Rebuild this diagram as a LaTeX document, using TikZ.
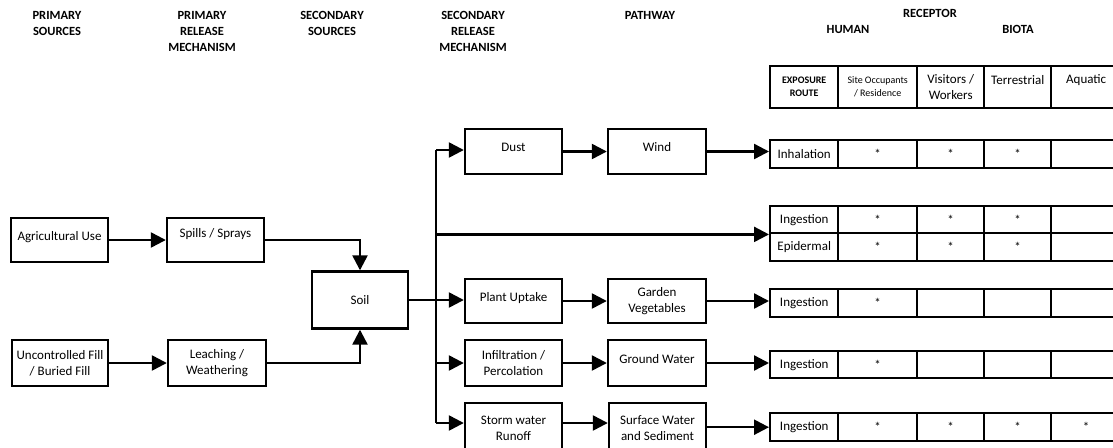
\documentclass[tikz,border=0pt]{standalone}
\usepackage{fontspec}
\setmainfont{Carlito}
\usetikzlibrary{arrows.meta}
\newcommand\bodyfont{\fontsize{13}{16}\selectfont}
\newcommand\headfont{\fontsize{12.5}{16}\selectfont\bfseries}
\newcommand\smallhead{\fontsize{10}{13}\selectfont}
\newcommand\up[2]{\raisebox{#1}[\height][\depth]{#2}}
\tikzset{
  box/.style={draw, line width=2.4pt, inner sep=1pt, align=center, font=\bodyfont},
  cell/.style={draw, line width=2.4pt, inner sep=0pt, align=center, font=\bodyfont, anchor=north west},
  hd/.style={align=center, font=\headfont, inner sep=0pt},
  conn/.style={line width=2.4pt},
  arr/.style={line width=2.4pt, -{Triangle[length=15pt,width=15pt]}}
}
\newcommand\trow[8]{%
  \node[cell, minimum width=68pt, minimum height=#3pt] (#1) at (769,#2) {#4};
  \node[cell, minimum width=79pt, minimum height=#3pt] (#1-2) at (837,#2) {#5};
  \node[cell, minimum width=67pt, minimum height=#3pt] (#1-3) at (916,#2) {#6};
  \node[cell, minimum width=67pt, minimum height=#3pt] (#1-4) at (983,#2) {#7};
  \node[cell, minimum width=70pt, minimum height=#3pt] (#1-5) at (1050,#2) {#8};
}
\begin{document}
\begin{tikzpicture}[x=1pt,y=-1pt]
\useasboundingbox (0,0) rectangle (1113,447);
\clip (0,0) rectangle (1113,447);
% column headings
\node[hd] (h1) at (57,23) {PRIMARY\\SOURCES};
\node[hd] (h2) at (202,31) {PRIMARY\\RELEASE\\MECHANISM};
\node[hd] (h3) at (332,23) {SECONDARY\\SOURCES};
\node[hd] (h4) at (473,31) {SECONDARY\\RELEASE\\MECHANISM};
\node[hd] (h5) at (650,15) {PATHWAY};
\node[hd] (h6) at (930,13) {RECEPTOR};
\node[hd] (h7) at (848,29) {HUMAN};
\node[hd] (h8) at (1018,29) {BIOTA};
% boxes
\node[box, minimum width=97pt, minimum height=44pt] (agri) at (59.5,240) {\up{3pt}{Agricultural Use}};
\node[box, minimum width=97pt, minimum height=44pt] (spills) at (215.5,240) {\up{6pt}{Spills / Sprays}};
\node[box, minimum width=96pt, minimum height=46pt] (unc) at (60,363) {Uncontrolled Fill\\/ Buried Fill};
\node[box, minimum width=98pt, minimum height=46pt] (leach) at (217,363) {Leaching /\\Weathering};
\node[box, minimum width=96pt, minimum height=57pt] (soil) at (360,300) {Soil};
\node[box, minimum width=97pt, minimum height=45pt] (dust) at (513.5,151.5) {\up{4pt}{Dust}};
\node[box, minimum width=98pt, minimum height=45pt] (wind) at (657,151.5) {\up{4pt}{Wind}};
\node[box, minimum width=97pt, minimum height=44pt] (plant) at (513.5,301) {\up{3pt}{Plant Uptake}};
\node[box, minimum width=98pt, minimum height=44pt] (garden) at (657,301) {Garden\\Vegetables};
\node[box, minimum width=97pt, minimum height=46pt] (infil) at (513.5,363) {Infiltration /\\Percolation};
\node[box, minimum width=98pt, minimum height=46pt] (ground) at (657,363) {\up{4pt}{Ground Water}};
\node[box, minimum width=97pt, minimum height=50pt] (storm) at (513.5,428) {Storm water\\Runoff};
\node[box, minimum width=97pt, minimum height=50pt] (surface) at (657.5,428) {Surface Water\\and Sediment};
% receptor table
\node[cell, minimum width=68pt, minimum height=42pt, font=\smallhead\bfseries] (hdr) at (769,65) {EXPOSURE\\ROUTE};
\node[cell, minimum width=79pt, minimum height=42pt, font=\smallhead] (hdr-2) at (837,65) {Site Occupants\\/ Residence};
\node[cell, minimum width=67pt, minimum height=42pt] (hdr-3) at (916,65) {Visitors /\\Workers};
\node[cell, minimum width=67pt, minimum height=42pt] (hdr-4) at (983,65) {\up{7pt}{Terrestrial}};
\node[cell, minimum width=70pt, minimum height=42pt] (hdr-5) at (1050,65) {\up{7pt}{Aquatic}};
\trow{inh}{139}{28}{Inhalation}{*}{*}{*}{}
\trow{ing}{205}{27}{Ingestion}{*}{*}{*}{}
\trow{epi}{232}{28}{Epidermal}{*}{*}{*}{}
\trow{veg}{288}{28}{Ingestion}{*}{}{}{}
\trow{gw}{350}{27}{Ingestion}{*}{}{}{}
\trow{sw}{412}{28}{Ingestion}{*}{*}{*}{*}
% connectors
\draw[arr] (agri) -- (spills);
\draw[arr] (unc) -- (leach);
\draw[arr] (spills.east) -| (soil.north);
\draw[arr] (leach.east) -| (soil.south);
\coordinate (j) at (436,300);
\coordinate (jtop) at (436,150);
\coordinate (jbot) at (436,423);
\draw[conn] (soil.east) -- (j);
\draw[conn] (jtop) -- (jbot);
\draw[arr] (jtop) -- (jtop -| dust.west);
\draw[arr] (j) -- (j -| plant.west);
\draw[arr] (j |- infil.west) -- (infil.west);
\draw[arr] (jbot) -- (jbot -| storm.west);
\coordinate (ingin) at (ing.south west);
\draw[arr] (j |- ingin) -- (ingin);
\draw[arr] (dust) -- (wind);
\draw[arr] (plant) -- (garden);
\draw[arr] (infil) -- (ground);
\draw[arr] (storm.east |- jbot) -- (surface.west |- jbot);
\draw[arr] (wind.east) -- (wind.east -| inh.west);
\draw[arr] (garden.east) -- (garden.east -| veg.west);
\draw[arr] (ground.east) -- (ground.east -| gw.west);
\draw[arr] (surface.east |- sw.west) -- (sw.west);
\end{tikzpicture}
\end{document}
